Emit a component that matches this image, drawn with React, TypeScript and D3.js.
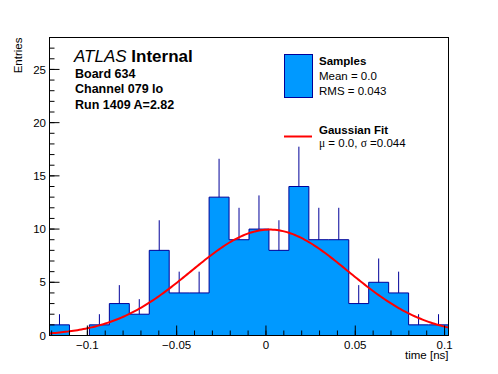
import { scaleLinear, range, line } from "d3";

// histogram: 20 equal bins over the x range
const xMin = -0.1212;
const xMax = 0.1022;
const counts = [1, 0, 1, 3, 2, 8, 4, 4, 13, 9, 10, 8, 14, 9, 9, 3, 5, 4, 1, 1];

// gaussian fit parameters (constant, mean, sigma)
const fitConst = 9.95;
const fitMean = 0.002;
const fitSigma = 0.044;

const xMajorTicks = [-0.1, -0.05, 0, 0.05, 0.1];
const xTickLabels = ["\u22120.1", "\u22120.05", "0", "0.05", "0.1"];
const yMajorTicks = [0, 5, 10, 15, 20, 25];

const labelLines = ["Board 634", "Channel 079 lo", "Run 1409 A=2.82"];

const width = 498;
const height = 374;
const frame = { left: 49.5, right: 448.5, top: 37.5, bottom: 335.5 };

const fillColor = "#0099ff";
const lineColor = "#000099";
const font = "'Liberation Sans', Arial, Helvetica, sans-serif";
const symFont = "'Liberation Serif', 'DejaVu Serif', serif";

export default function App() {
  const x = scaleLinear().domain([xMin, xMax]).range([frame.left, frame.right]);
  const y = scaleLinear().domain([0, 28]).range([frame.bottom, frame.top]);

  const binW = (xMax - xMin) / counts.length;
  const edges = range(counts.length + 1).map((i) => xMin + i * binW);

  // step outline
  let outline = `M${x(edges[0])},${y(0)}`;
  counts.forEach((c, i) => {
    outline += `L${x(edges[i])},${y(c)}L${x(edges[i + 1])},${y(c)}`;
  });
  outline += `L${x(edges[counts.length])},${y(0)}`;

  const fitPts = range(0, 201).map((i) => {
    const xv = xMin + ((xMax - xMin) * i) / 200;
    return [xv, fitConst * Math.exp(-((xv - fitMean) ** 2) / (2 * fitSigma * fitSigma))] as [number, number];
  });
  const fitLine = line<[number, number]>()
    .x((d) => x(d[0]))
    .y((d) => y(d[1]));

  const xMinor = range(-12, 11).map((i) => i / 100).filter((v) => v >= xMin && v <= xMax);
  const yMinor = range(0, 29);

  return (
    <svg
      width={width}
      height={height}
      style={{ position: "absolute", left: 0, top: 0, background: "#fff" }}
      fontFamily={font}
    >
      {/* bars */}
      <path d={outline + "Z"} fill={fillColor} stroke="none" />
      <path d={outline} fill="none" stroke={lineColor} strokeWidth={1} />
      {/* error bars (upper half) */}
      {counts.map((c, i) =>
        c > 0 ? (
          <line
            key={i}
            x1={x(edges[i] + binW / 2)}
            x2={x(edges[i] + binW / 2)}
            y1={y(c)}
            y2={y(c + Math.sqrt(c))}
            stroke={lineColor}
            strokeWidth={1}
          />
        ) : null
      )}
      <path d={fitLine(fitPts) || ""} fill="none" stroke="#ff0000" strokeWidth={2} />

      {/* frame */}
      <rect
        x={frame.left}
        y={frame.top}
        width={frame.right - frame.left}
        height={frame.bottom - frame.top}
        fill="none"
        stroke="#000"
        strokeWidth={1}
      />

      {/* x axis ticks */}
      {xMinor.map((v) => (
        <line key={v} x1={x(v)} x2={x(v)} y1={frame.bottom} y2={frame.bottom - 5} stroke="#000" />
      ))}
      {xMajorTicks.map((v, i) => (
        <g key={v}>
          <line x1={x(v)} x2={x(v)} y1={frame.bottom} y2={frame.bottom - 10} stroke="#000" />
          <text x={x(v)} y={348.5} textAnchor="middle" fontSize={11.5}>
            {xTickLabels[i]}
          </text>
        </g>
      ))}
      <text x={frame.right} y={359} textAnchor="end" fontSize={11.5}>
        time [ns]
      </text>

      {/* y axis ticks */}
      {yMinor.map((v) => (
        <line key={v} x1={frame.left} x2={frame.left + 5} y1={y(v)} y2={y(v)} stroke="#000" />
      ))}
      {yMajorTicks.map((v) => (
        <g key={v}>
          <line x1={frame.left} x2={frame.left + 10} y1={y(v)} y2={y(v)} stroke="#000" />
          <text x={46} y={y(v)} dy="0.36em" textAnchor="end" fontSize={11.5}>
            {v}
          </text>
        </g>
      ))}
      <text
        transform={`translate(22,${frame.top}) rotate(-90)`}
        textAnchor="end"
        fontSize={11.5}
      >
        Entries
      </text>

      {/* ATLAS label */}
      <text x={74} y={62} fontSize={17}>
        <tspan fontStyle="italic">ATLAS</tspan>
        <tspan fontWeight="bold"> Internal</tspan>
      </text>
      {labelLines.map((t, i) => (
        <text key={t} x={75} y={77.5 + i * 15.5} fontSize={12.5} fontWeight="bold">
          {t}
        </text>
      ))}

      {/* legend */}
      <rect x={284.5} y={54.5} width={28} height={43} fill={fillColor} stroke={lineColor} />
      <text x={319} y={65} fontSize={11.5} fontWeight="bold">
        Samples
      </text>
      <text x={319} y={79.5} fontSize={11.5}>
        Mean = 0.0
      </text>
      <text x={319} y={94.5} fontSize={11.5}>
        RMS = 0.043
      </text>
      <line x1={284} x2={312} y1={136.5} y2={136.5} stroke="#ff0000" strokeWidth={2} />
      <text x={319} y={134} fontSize={11.5} fontWeight="bold">
        Gaussian Fit
      </text>
      <text x={319} y={147} fontSize={11.5}>
        <tspan fontFamily={symFont}>{"\u03bc"}</tspan> = 0.0,{" "}
        <tspan fontFamily={symFont}>{"\u03c3"}</tspan> =0.044
      </text>
    </svg>
  );
}
